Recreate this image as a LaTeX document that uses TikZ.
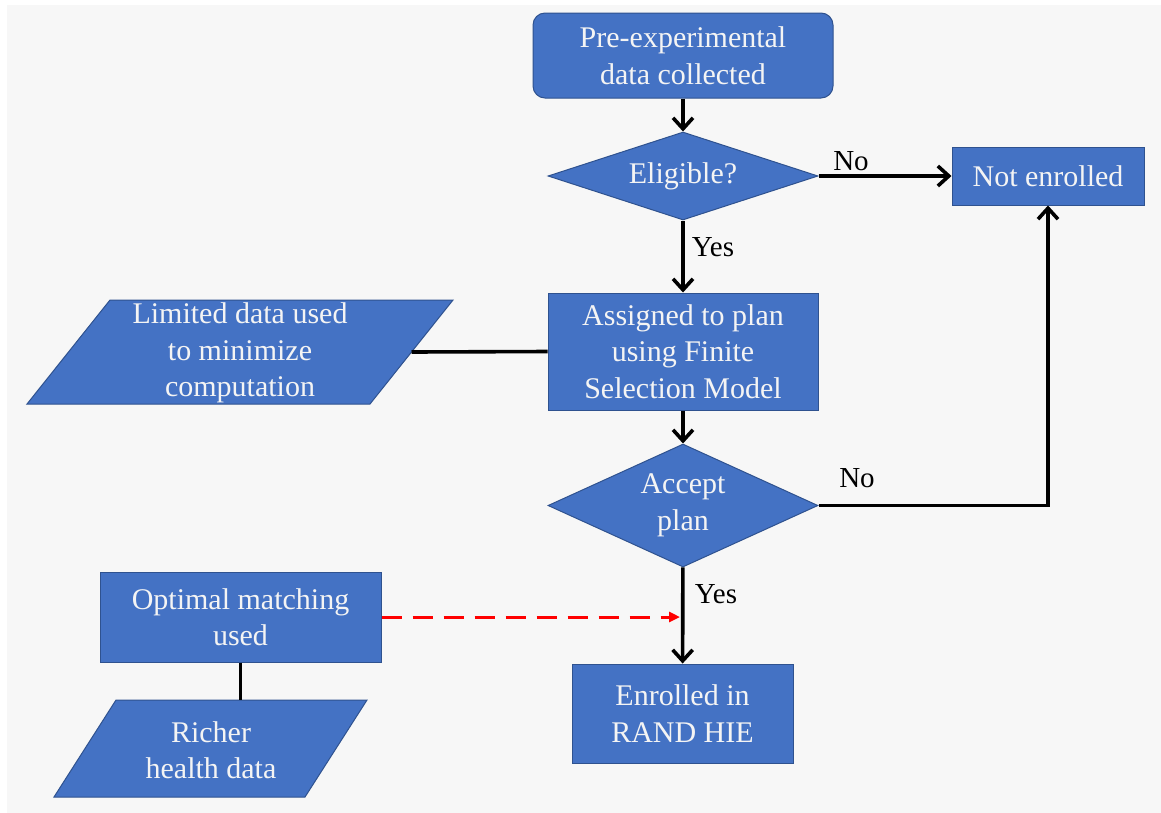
\documentclass[tikz,border=0pt]{standalone}
\usepackage{fontspec}
\setmainfont{Liberation Serif}
\newfontfamily\lserif{Liberation Serif}
\usetikzlibrary{shapes.geometric,arrows.meta}
\definecolor{boxfill}{HTML}{4472C4}
\definecolor{boxline}{HTML}{2F528F}
\definecolor{bg}{HTML}{F7F7F7}
\definecolor{txt}{HTML}{F4F4F4}
\tikzset{
  base/.style={fill=boxfill,draw=boxline,line width=1pt,text=txt,align=center,
    font=\lserif\fontsize{30}{36.5}\selectfont,inner sep=0pt},
  boxnode/.style={base,shape=rectangle},
  dia/.style={base,shape=diamond},
  para/.style={fill=boxfill,draw=boxline,line width=1pt},
  ptext/.style={text=txt,align=center,font=\lserif\fontsize{30}{36.5}\selectfont,inner sep=0pt},
  lbl/.style={text=black,font=\lserif\fontsize{29}{34}\selectfont,inner sep=0pt},
  arr/.style={line width=3.6pt,draw=black,-{Straight Barb[length=11pt,width=20pt,line width=3.6pt]}},
  plain/.style={line width=3.6pt,draw=black},
  redarr/.style={line width=3pt,draw=red,dash pattern=on 20pt off 11pt,-{Triangle[length=11pt,width=10pt]}}
}
\begin{document}
\begin{tikzpicture}[x=1pt,y=-1pt]
\useasboundingbox (0,0) rectangle (1161,812);
\fill[white] (0,0) rectangle (1161,812);
\fill[bg] (7,5) rectangle (1162,813);

% nodes
\node[boxnode,rounded corners=12pt,minimum width=300pt,minimum height=85pt] (pre) at (683,55.5) {Pre-experimental\\data collected};
\node[dia,minimum width=270pt,minimum height=88pt,aspect=3] (elig) at (683,176) {Eligible?};
\node[boxnode,minimum width=192pt,minimum height=58pt] (notenr) at (1048,176) {Not enrolled};
\node[boxnode,minimum width=270pt,minimum height=117pt] (assign) at (683,351.5) {Assigned to plan\\using Finite\\Selection Model};
\node[dia,minimum width=270pt,minimum height=123pt,aspect=2.2] (accept) at (683,505.5) {Accept\\plan};
\node[boxnode,minimum width=221pt,minimum height=99pt] (enr) at (682.5,713.5) {Enrolled in\\RAND HIE};
\node[boxnode,minimum width=281pt,minimum height=90pt] (opt) at (240.5,617) {Optimal matching\\used};

% parallelograms
\draw[para] (110,300) -- (453,300) -- (370,404) -- (27,404) -- cycle;
\node[ptext] (lim) at (240,353) {Limited data used\\to minimize\\computation};
\coordinate (limR) at (411.5,352);
\draw[para] (116,700) -- (367,700) -- (305,797) -- (54,797) -- cycle;
\node[ptext] (rich) at (211,750) {Richer\\health data};
\coordinate (richT) at (240.5,700);
\coordinate (redend) at (680,617);

% labels
\node[lbl] (no1) at (851,161) {No};
\node[lbl] (yes1) at (713,247) {Yes};
\node[lbl] (no2) at (857,478) {No};
\node[lbl] (yes2) at (716,594) {Yes};

% connectors
\draw[arr] (pre) -- (elig);
\draw[arr] (elig) -- (notenr);
\draw[arr] (elig) -- (assign);
\draw[plain] (limR) -- (assign.west);
\draw[arr] (assign) -- (accept);
\draw[arr] (accept.east) -| (notenr.south);
\draw[arr] (accept) -- (enr);
\draw[plain] (opt.south) -- (richT);
\draw[redarr] (opt.east) -- (redend);
\end{tikzpicture}
\end{document}
